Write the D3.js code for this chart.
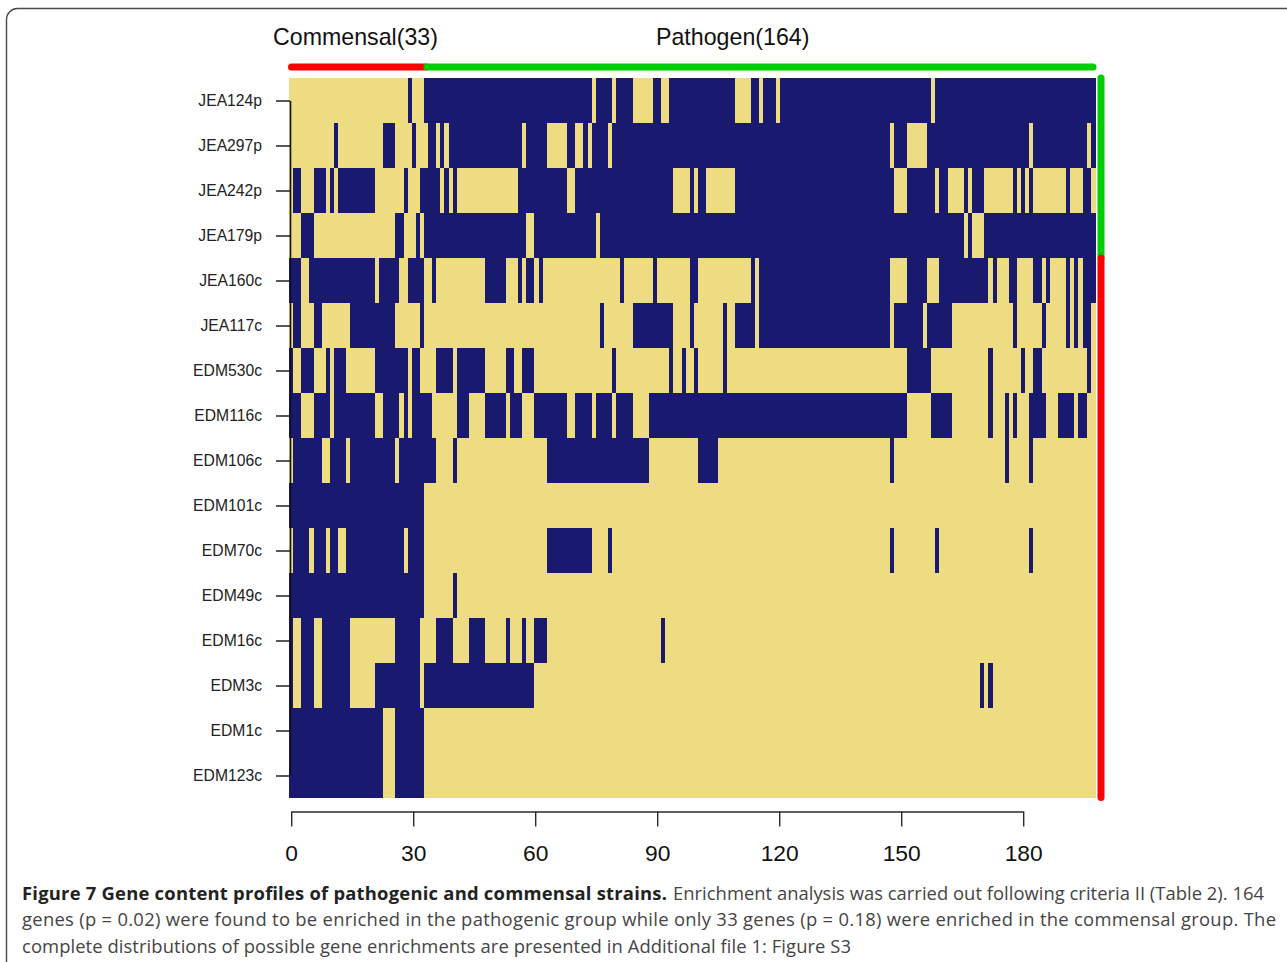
<!DOCTYPE html>
<html><head><meta charset="utf-8">
<script src="https://cdnjs.cloudflare.com/ajax/libs/d3/7.8.5/d3.min.js"></script>
<style>html,body{margin:0;padding:0;background:#fff;overflow:hidden}svg{display:block}</style>
</head><body><div id="chart"></div>
<script>
// Strains, top to bottom
const strains = ["JEA124p","JEA297p","JEA242p","JEA179p","JEA160c","JEA117c","EDM530c","EDM116c","EDM106c","EDM101c","EDM70c","EDM49c","EDM16c","EDM3c","EDM1c","EDM123c"];
const geneCount = 197;
const commensalGenes = 33;
const pathogenStrains = 4;
const xTicks = [0,30,60,90,120,150,180];
// Gene presence: half-open [start,end) column runs of present genes per strain
const JEA124p = [[29,30],[33,74],[75,79],[80,84],[89,91],[93,109],[113,115],[116,119],[120,157],[158,197]];
const JEA297p = [[11,12],[23,26],[30,31],[34,36],[37,38],[39,57],[58,63],[68,70],[72,73],[74,78],[79,147],[148,151],[156,181],[182,195],[196,197]];
const JEA242p = [[1,3],[6,9],[10,11],[12,21],[28,29],[32,37],[38,39],[40,41],[56,68],[70,94],[98,99],[100,102],[109,148],[151,158],[159,161],[165,166],[167,170],[177,178],[179,180],[181,182],[190,191],[194,196]];
const JEA179p = [[3,6],[26,28],[31,32],[33,58],[60,75],[76,165],[166,167],[170,197]];
const JEA160c = [[0,3],[5,21],[22,27],[29,33],[35,36],[48,53],[56,57],[58,60],[61,62],[81,82],[89,90],[98,100],[113,114],[115,147],[151,156],[159,171],[172,173],[176,178],[182,184],[185,186],[190,191],[192,193],[194,197]];
const JEA117c = [[1,3],[6,8],[15,26],[32,33],[76,77],[84,94],[98,99],[106,107],[109,114],[115,147],[148,155],[156,162],[177,178],[184,185],[190,191],[192,193],[194,196]];
const EDM530c = [[0,1],[3,6],[9,10],[11,14],[21,29],[30,32],[36,40],[41,48],[53,55],[57,60],[79,80],[93,94],[96,97],[99,100],[106,107],[151,157],[171,172],[179,180],[182,184],[195,196]];
const EDM116c = [[0,3],[6,10],[11,21],[23,27],[28,29],[30,35],[41,44],[48,53],[54,57],[60,68],[70,74],[75,79],[80,84],[88,151],[157,162],[171,172],[175,176],[177,178],[181,185],[188,192],[193,195]];
const EDM106c = [[1,8],[10,14],[15,26],[27,36],[40,41],[63,88],[100,105],[147,148],[175,176],[181,182]];
const EDM101c = [[0,33]];
const EDM70c  = [[1,5],[6,9],[10,12],[14,28],[29,33],[63,74],[78,79],[147,148],[158,159],[181,182]];
const EDM49c  = [[0,33],[40,41]];
const EDM16c  = [[0,1],[3,6],[8,15],[26,32],[36,40],[44,48],[53,54],[57,58],[60,63],[91,92]];
const EDM3c   = [[0,1],[3,6],[8,15],[21,32],[33,60],[169,170],[171,172]];
const EDM1c   = [[0,23],[26,33]];
const EDM123c = [[0,23],[26,33]];
const presence = [JEA124p,JEA297p,JEA242p,JEA179p,JEA160c,JEA117c,EDM530c,EDM116c,EDM106c,EDM101c,EDM70c,EDM49c,EDM16c,EDM3c,EDM1c,EDM123c];

const captionBold = "Figure 7 Gene content profiles of pathogenic and commensal strains.";
const captionLines = [
 "Enrichment analysis was carried out following criteria II (Table 2). 164",
 "genes (p = 0.02) were found to be enriched in the pathogenic group while only 33 genes (p = 0.18) were enriched in the commensal group. The",
 "complete distributions of possible gene enrichments are presented in Additional file 1: Figure S3"
];

const W = 1287, H = 962;
const svg = d3.select("#chart").append("svg").attr("width",W).attr("height",H);
const NAVY="#191970", GOLD="#EEDC82", RED="#FF0000", GREEN="#00CD00", AXIS="#2b2b2b";

// panel frame
svg.append("rect").attr("x",6.5).attr("y",8.5).attr("width",1300).attr("height",1000).attr("rx",11)
  .attr("fill","none").attr("stroke","#4a4a4a").attr("stroke-width",1.4);

const x = d3.scaleLinear().domain([0,geneCount+0.3]).range([289,1096]);
const xEnd = v => v===geneCount ? x.range()[1] : x(v);
const y = d3.scaleBand().domain(strains).range([78,798]);

// heatmap
svg.append("rect").attr("x",x(0)).attr("y",y.range()[0]).attr("width",xEnd(geneCount)-x(0)).attr("height",720).attr("fill",GOLD);
svg.append("g").attr("shape-rendering","crispEdges").selectAll("g").data(strains).join("g")
  .each(function(s,i){
    d3.select(this).selectAll("rect").data(presence[i]).join("rect")
      .attr("x",d=>x(d[0])).attr("width",d=>xEnd(d[1])-x(d[0]))
      .attr("y",y(s)).attr("height",y.bandwidth()).attr("fill",NAVY);
  });

// group bars
const barLine=(x1,y1,x2,y2,c)=>svg.append("line").attr("x1",x1).attr("y1",y1).attr("x2",x2).attr("y2",y2)
  .attr("stroke",c).attr("stroke-width",7).attr("stroke-linecap","round");
barLine(x(0)+2.5,67,x(commensalGenes)+2,67,RED);
barLine(x(commensalGenes)+3,67,xEnd(geneCount)-3,67,GREEN);
const xBar=xEnd(geneCount)+5;
barLine(xBar,78,xBar,y(strains[pathogenStrains]),GREEN);
barLine(xBar,y(strains[pathogenStrains]),xBar,797.5,RED);

// y axis
const yAxis = d3.axisLeft(y).tickSize(14).tickPadding(14);
const gy = svg.append("g").attr("transform","translate(290,0.5)").call(yAxis);
gy.select(".domain").attr("d",`M0.5,${y(strains[0])+y.bandwidth()/2}V${y(strains[15])+y.bandwidth()/2}`)
  .attr("stroke","#111").attr("stroke-width",1.6);
gy.selectAll(".tick line").attr("stroke","#111").attr("stroke-width",1.4);
gy.selectAll("text").attr("font-family","'Liberation Sans',Arial,sans-serif").attr("font-size",15.7).attr("fill","#222");

// x axis
const xAxisScale = d3.scaleLinear().domain([0,180]).range([291.2,1023.2]);
const xAxis = d3.axisBottom(xAxisScale).tickValues(xTicks).tickSize(15).tickPadding(18).tickSizeOuter(0);
const gx = svg.append("g").attr("transform","translate(0,811.5)").call(xAxis);
gx.select(".domain").attr("stroke",AXIS).attr("stroke-width",1.4);
gx.selectAll(".tick line").attr("stroke",AXIS).attr("stroke-width",1.4);
gx.selectAll("text").attr("font-family","'Liberation Sans',Arial,sans-serif").attr("font-size",22.8).attr("fill","#111");

// group titles
const titles=[["Commensal(33)",273],["Pathogen(164)",656]];
svg.selectAll("text.title").data(titles).join("text").attr("class","title")
  .attr("x",d=>d[1]).attr("y",45)
  .attr("font-family","'Liberation Sans',Arial,sans-serif").attr("font-size",23.2).attr("fill","#111")
  .text(d=>d[0]);

// caption
const capFont="'Open Sans','Noto Sans',sans-serif";
const capText=(t,xp,yp,len,weight,fill)=>svg.append("text").attr("x",xp).attr("y",yp)
  .attr("font-family",capFont).attr("font-size",18.4).attr("font-weight",weight).attr("fill",fill)
  .attr("textLength",len).attr("lengthAdjust","spacing").text(t);
capText(captionBold,22,900,645,700,"#222");
capText(captionLines[0],673,900,591,400,"#444");
capText(captionLines[1],22,926,1254,400,"#444");
capText(captionLines[2],22,952.5,829,400,"#444");
</script></body></html>
